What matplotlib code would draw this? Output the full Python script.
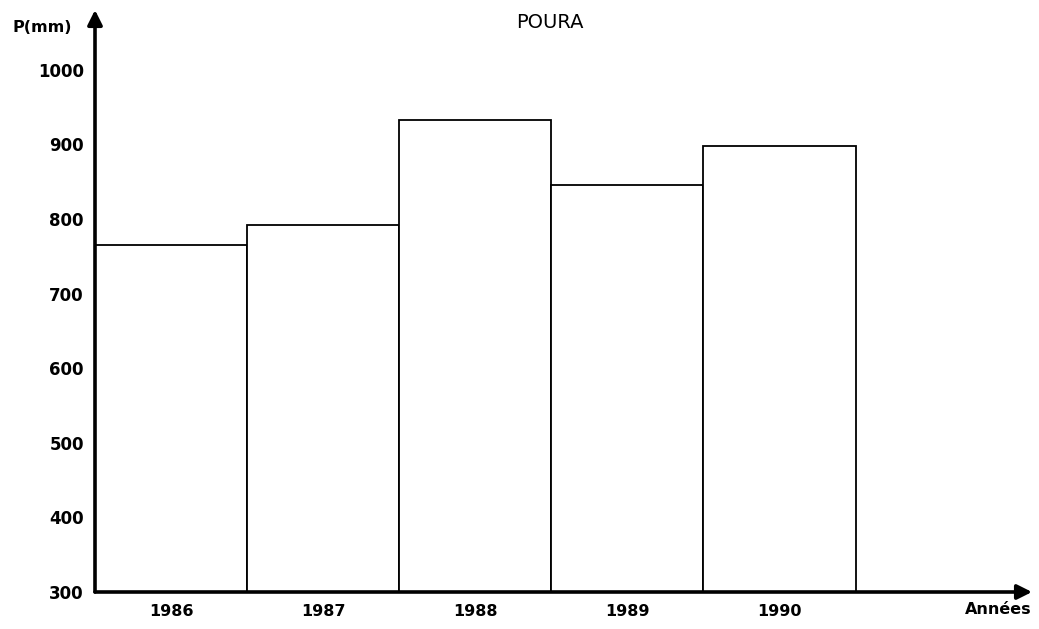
import matplotlib.pyplot as plt

# precipitation totals at Poura (mm)
years = ['1986', '1987', '1988', '1989', '1990']
precip = [765, 792, 933, 846, 898]
yticks = [300, 400, 500, 600, 700, 800, 900, 1000]

base = 300

fig = plt.figure(figsize=(10.39, 6.29), dpi=100)
ax = fig.add_axes([95 / 1039, 37 / 629, (1032 - 95) / 1039, (619 - 37) / 629])

x = list(range(len(years)))
heights = [p - base for p in precip]
ax.bar(x, heights, width=1.0, bottom=base, color='white',
       edgecolor='black', linewidth=1.3)

ax.set_xlim(-0.5, 5.66)
ax.set_ylim(base, 1080)

for s in ax.spines.values():
    s.set_visible(False)

# axes drawn as arrows
ax.annotate('', xy=(5.66, base), xytext=(-0.5, base),
            arrowprops=dict(arrowstyle='-|>', color='black', lw=2.6,
                            mutation_scale=22, shrinkA=0, shrinkB=0),
            annotation_clip=False)
ax.annotate('', xy=(-0.5, 1080), xytext=(-0.5, base),
            arrowprops=dict(arrowstyle='-|>', color='black', lw=2.6,
                            mutation_scale=22, shrinkA=0, shrinkB=0),
            annotation_clip=False)

ax.set_yticks(yticks)
ax.set_yticklabels([str(v) for v in yticks], fontsize=12, fontweight='bold')
ax.tick_params(axis='y', length=0, pad=8)
ax.set_xticks(x)
ax.set_xticklabels(years, fontsize=11.5, fontweight='bold')
ax.tick_params(axis='x', length=0, pad=9)

fig.text(550 / 1039, 1 - 22 / 629, 'POURA', ha='center', va='center', fontsize=14)
fig.text(12 / 1039, 1 - 28 / 629, 'P(mm)', ha='left', va='center',
         fontsize=11.5, fontweight='bold')
fig.text(998 / 1039, 1 - 609 / 629, 'Années', ha='center', va='center',
         fontsize=11.5, fontweight='bold')

fig.savefig('out.png', dpi=100)
